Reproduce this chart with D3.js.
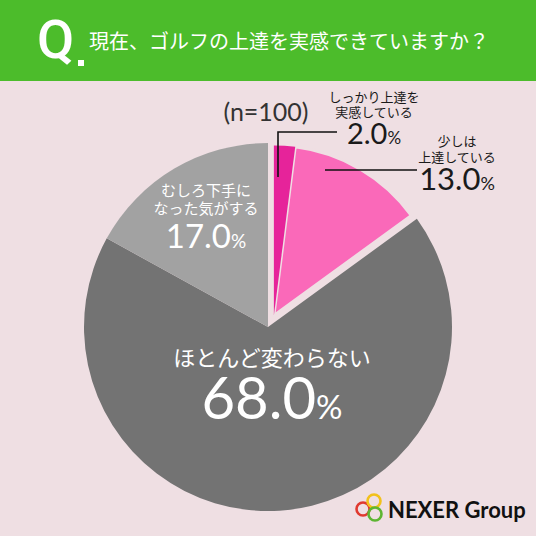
<!DOCTYPE html>
<html>
<head>
<meta charset="utf-8">
<script src="https://cdn.jsdelivr.net/npm/d3@7"></script>
<style>
  html, body { margin: 0; padding: 0; background: #efdfe3; }
  svg { display: block; }
  .jp { font-family: "Noto Sans CJK JP", "Noto Sans", sans-serif; }
  .num { font-family: Lato, "Noto Sans", sans-serif; }
</style>
</head>
<body>
<div id="chart"></div>
<script>
// survey answers, clockwise from 12 o'clock
var categories = ["しっかり上達を実感している", "少しは上達している", "ほとんど変わらない", "むしろ下手になった気がする"];
var shares = [2.0, 13.0, 68.0, 17.0];
var labelLines = [["しっかり上達を", "実感している"], ["少しは", "上達している"], ["ほとんど変わらない"], ["むしろ下手に", "なった気がする"]];
var sampleSize = 100;
var title = "現在、ゴルフの上達を実感できていますか？";

var colors = ["#e6239a", "#fa69b9", "#737373", "#a2a2a2"];

var render = function() {
  let width = 536, height = 536;
  let bg = "#efdfe3";

  let svg = d3.select("#chart")
    .append("svg")
    .attr("width", width)
    .attr("height", height);

  svg.append("rect").attr("width", width).attr("height", height).attr("fill", bg);

  // header band
  svg.append("rect").attr("width", width).attr("height", 81).attr("fill", "#4cbc2b");
  svg.append("text")
    .attr("x", 37).attr("y", 58)
    .attr("font-family", "Roboto, sans-serif")
    .attr("font-weight", 500)
    .attr("font-size", 54)
    .attr("fill", "#fff")
    .text("Q");
  svg.append("rect").attr("x", 78).attr("y", 60).attr("width", 6).attr("height", 6).attr("fill", "#fff");
  svg.append("text")
    .attr("class", "jp")
    .attr("x", 89).attr("y", 49)
    .attr("font-size", 20)
    .attr("fill", "#fff")
    .text(title);

  // pie
  let cx = 268, cy = 327, R = 184;
  let pie = d3.pie().sort(null).value((d) => d);
  let arcs = pie(shares);

  let arc = d3.arc().innerRadius(0).outerRadius(R);
  let arcSmall = d3.arc().innerRadius(0).outerRadius(R - 14);

  let g = svg.append("g").attr("transform", "translate(" + cx + "," + cy + ")");

  // the two "improved" slices are pulled out of the pie as a group
  let popped = [0, 1];
  let popMid = (arcs[0].startAngle + arcs[1].endAngle) / 2;
  let popDist = 13;
  let px = Math.sin(popMid) * popDist, py = -Math.cos(popMid) * popDist;

  g.selectAll(".slice")
    .data(arcs)
    .enter()
    .append("path")
    .attr("class", "slice")
    .attr("d", (d, i) => popped.indexOf(i) >= 0 ? arcSmall(d) : arc(d))
    .attr("fill", (d, i) => colors[i])
    .attr("stroke", (d, i) => popped.indexOf(i) >= 0 ? bg : "none")
    .attr("stroke-width", 3)
    .attr("stroke-linejoin", "round")
    .attr("transform", (d, i) => popped.indexOf(i) >= 0 ? "translate(" + px + "," + py + ")" : null);

  // redraw the dark pink one on top so its stroke doesn't eat the edge
  g.append("path")
    .attr("d", arcSmall(arcs[0]))
    .attr("fill", colors[0])
    .attr("transform", "translate(" + px + "," + py + ")");

  let fmt = d3.format(".1f");

  // n label
  svg.append("text")
    .attr("class", "num")
    .attr("x", 266).attr("y", 121)
    .attr("text-anchor", "middle")
    .attr("font-size", 25)
    .attr("fill", "#333")
    .text("(n=" + sampleSize + ")");

  // label layout
  let layout = [
    { x: 374, y: 102, fs: 13, ns: 29, ps: 17, gap: 15, numGap: 27, color: "#1a1a1a" },
    { x: 457, y: 146, fs: 13, ns: 31, ps: 18, gap: 16, numGap: 28, color: "#1a1a1a" },
    { x: 272, y: 366, fs: 22, ns: 58, ps: 33, gap: 0, numGap: 53, color: "#fff" },
    { x: 206, y: 196, fs: 15, ns: 33, ps: 19, gap: 18, numGap: 34, color: "#fff" }
  ];

  layout.forEach(function (l, i) {
    let lines = labelLines[i];
    lines.forEach(function (ln, k) {
      svg.append("text")
        .attr("class", "jp")
        .attr("x", l.x).attr("y", l.y + k * l.gap)
        .attr("text-anchor", "middle")
        .attr("font-size", l.fs)
        .attr("fill", l.color)
        .text(ln);
    });
    let t = svg.append("text")
      .attr("class", "num")
      .attr("x", l.x).attr("y", l.y + (lines.length - 1) * l.gap + l.numGap)
      .attr("text-anchor", "middle")
      .attr("fill", l.color);
    t.append("tspan").attr("font-size", l.ns).text(fmt(shares[i]));
    t.append("tspan").attr("font-size", l.ps).text("%");
  });

  // leader lines for the small slices
  let leaders = [
    [[278, 177], [278, 132], [337, 132]],
    [[325, 170], [417, 170]]
  ];
  svg.selectAll(".leader")
    .data(leaders)
    .enter()
    .append("path")
    .attr("class", "leader")
    .attr("d", d3.line())
    .attr("fill", "none")
    .attr("stroke", "#111")
    .attr("stroke-width", 1.6);

  // NEXER Group logo
  let logo = svg.append("g");
  [[363, 509, "#e0392f"], [374, 501, "#f2c11b"], [375, 514, "#5db532"]].forEach(function (c) {
    logo.append("circle")
      .attr("cx", c[0]).attr("cy", c[1]).attr("r", 6.5)
      .attr("fill", "none").attr("stroke", c[2]).attr("stroke-width", 2.6);
  });
  logo.append("text")
    .attr("x", 388).attr("y", 518)
    .attr("font-family", "Lato, sans-serif")
    .attr("font-weight", 700)
    .attr("font-size", 22)
    .attr("fill", "#111")
    .text("NEXER Group");
};

render();
</script>
</body>
</html>
